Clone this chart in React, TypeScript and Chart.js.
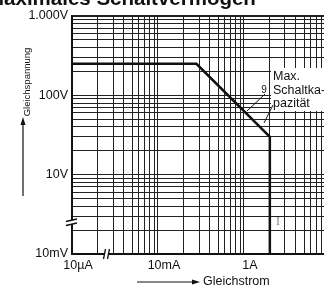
import React, { useEffect, useRef } from 'react';
import { Chart, registerables } from 'chart.js';

Chart.register(...registerables);

// ---------------- data ----------------
const xTickValues = [0.01, 0.1, 1];
const xTickLabels = ['10µA', '10mA', '1A'];
const yTickValues = [1, 10, 100, 1000];
const yTickLabels = ['10mV', '10V', '100V', '1.000V'];
const gridDecadesX = [0.01, 0.1, 1];
const gridDecadesY = [1, 10, 100];
const gridSteps = [1, 2, 3, 4, 5, 6, 7, 8, 9];
const curveCurrentA = [0.01, 0.28, 2, 2];
const curveVoltageV = [250, 250, 30, 1];
const titleText = 'Maximales Schaltvermögen';
const yAxisTitle = 'Gleichspannung';
const xAxisTitle = 'Gleichstrom';
const noteLines = ['Max.', 'Schaltka-', 'pazität'];

const FONT = '"Liberation Sans", Arial, Helvetica, sans-serif';

const xGrid = gridDecadesX.flatMap((d) => gridSteps.map((s) => +(d * s).toPrecision(6)));
const yGrid = [...gridDecadesY.flatMap((d) => gridSteps.map((s) => +(d * s).toPrecision(6))), 1000];

function labelFor(values: number[], labels: string[], v: number): string {
  const i = values.findIndex((t) => Math.abs(Math.log10(t) - Math.log10(v)) < 1e-6);
  return i >= 0 ? labels[i] : '';
}

const decoPlugin = {
  id: 'deco',
  afterDraw(chart: any) {
    const ctx: CanvasRenderingContext2D = chart.ctx;
    const { left } = chart.chartArea;
    ctx.save();
    ctx.fillStyle = '#111';
    ctx.strokeStyle = '#111';

    // title (cut at top)
    ctx.font = `bold 20.5px ${FONT}`;
    ctx.textAlign = 'left';
    ctx.textBaseline = 'alphabetic';
    ctx.fillText(titleText, -13, 4.5);

    // y axis title + arrow
    ctx.save();
    ctx.translate(27, 82);
    ctx.rotate(-Math.PI / 2);
    ctx.font = `9.5px ${FONT}`;
    ctx.textAlign = 'center';
    ctx.textBaseline = 'middle';
    ctx.fillText(yAxisTitle, 0, 0);
    ctx.restore();
    ctx.lineWidth = 1.2;
    ctx.beginPath();
    ctx.moveTo(23, 196);
    ctx.lineTo(23, 123);
    ctx.stroke();
    ctx.beginPath();
    ctx.moveTo(23, 117);
    ctx.lineTo(20.5, 125);
    ctx.lineTo(25.5, 125);
    ctx.closePath();
    ctx.fill();

    // x axis title + arrow
    ctx.beginPath();
    ctx.moveTo(137, 282);
    ctx.lineTo(193, 282);
    ctx.stroke();
    ctx.beginPath();
    ctx.moveTo(200, 282);
    ctx.lineTo(192, 279.5);
    ctx.lineTo(192, 284.5);
    ctx.closePath();
    ctx.fill();
    ctx.font = `12.5px ${FONT}`;
    ctx.textAlign = 'left';
    ctx.textBaseline = 'middle';
    ctx.fillText(xAxisTitle, 203, 282);

    // y axis break
    ctx.fillStyle = '#fff';
    ctx.beginPath();
    ctx.moveTo(left - 6, 221.5);
    ctx.lineTo(left + 5, 219);
    ctx.lineTo(left + 5, 223);
    ctx.lineTo(left - 6, 225.5);
    ctx.closePath();
    ctx.fill();
    ctx.lineWidth = 1.3;
    ctx.beginPath();
    ctx.moveTo(left - 6, 221.5);
    ctx.lineTo(left + 5, 219);
    ctx.moveTo(left - 6, 225.5);
    ctx.lineTo(left + 5, 223);
    ctx.stroke();

    // x axis break
    ctx.beginPath();
    ctx.moveTo(103.5, 259);
    ctx.lineTo(105.5, 249);
    ctx.lineTo(109.5, 249);
    ctx.lineTo(107.5, 259);
    ctx.closePath();
    ctx.fill();
    ctx.beginPath();
    ctx.moveTo(103.5, 259);
    ctx.lineTo(105.5, 249);
    ctx.moveTo(107.5, 259);
    ctx.lineTo(109.5, 249);
    ctx.stroke();

    // annotation
    ctx.fillStyle = '#fff';
    ctx.fillRect(271, 68, 60, 43);
    ctx.fillStyle = '#111';
    ctx.font = `12.5px ${FONT}`;
    ctx.textAlign = 'left';
    ctx.textBaseline = 'middle';
    noteLines.forEach((t, i) => ctx.fillText(t, 273, 77 + i * 13.3));
    ctx.lineWidth = 1;
    ctx.beginPath();
    ctx.moveTo(265, 94);
    ctx.lineTo(247, 111);
    ctx.moveTo(273, 105);
    ctx.lineTo(264, 123);
    ctx.stroke();
    ctx.font = `10px ${FONT}`;
    ctx.textAlign = 'center';
    ctx.fillText('9', 264, 90);

    ctx.fillStyle = '#888';
    ctx.font = `12px "Liberation Serif", serif`;
    ctx.fillText('I', 278, 222);
    ctx.restore();
  },
};

export default function App() {
  const ref = useRef<HTMLCanvasElement>(null);
  useEffect(() => {
    const canvas = ref.current;
    if (!canvas) return;
    const chart = new Chart(canvas, {
      type: 'scatter',
      data: {
        datasets: [
          {
            data: curveCurrentA.map((x, i) => ({ x, y: curveVoltageV[i] })),
            showLine: true,
            borderColor: '#111',
            borderWidth: 2.5,
            pointRadius: 0,
            fill: false,
            tension: 0,
          },
        ],
      },
      options: {
        responsive: false,
        animation: false,
        devicePixelRatio: 1,
        layout: { padding: { top: 16, left: 0, right: 0, bottom: 0 } },
        plugins: {
          legend: { display: false },
          tooltip: { enabled: false },
          title: { display: false },
        },
        scales: {
          x: {
            type: 'logarithmic',
            min: 0.01,
            max: 10,
            position: 'bottom',
            afterBuildTicks: (s: any) => {
              s.ticks = xGrid.map((v) => ({ value: v }));
            },
            afterFit: (s: any) => {
              s.height = 33;
            },
            ticks: {
              autoSkip: false,
              maxRotation: 0,
              minRotation: 0,
              padding: 4,
              labelOffset: 6,
              color: '#111',
              font: { family: FONT, size: 12.5 },
              callback: (v: any) => labelFor(xTickValues, xTickLabels, Number(v)),
            },
            grid: { color: '#222', lineWidth: 1, drawTicks: false },
            border: { color: '#111', width: 2 },
          },
          y: {
            type: 'logarithmic',
            min: 1,
            max: 1000,
            afterBuildTicks: (s: any) => {
              s.ticks = yGrid.map((v) => ({ value: v }));
            },
            afterFit: (s: any) => {
              s.width = 72;
            },
            ticks: {
              autoSkip: false,
              padding: 4,
              color: '#111',
              font: { family: FONT, size: 12.5 },
              callback: (v: any) => labelFor(yTickValues, yTickLabels, Number(v)),
            },
            grid: {
              color: '#222',
              lineWidth: (c: any) => (c.tick && c.tick.value === 1000 ? 2 : 1),
              drawTicks: false,
            },
            border: { color: '#111', width: 2 },
          },
        },
      } as any,
      plugins: [decoPlugin],
    });
    return () => chart.destroy();
  }, []);

  return (
    <div
      style={{
        position: 'fixed',
        left: 0,
        top: 0,
        width: 324,
        height: 287,
        overflow: 'hidden',
        background: '#fff',
      }}
    >
      <canvas ref={ref} width={330} height={287} style={{ display: 'block' }} />
    </div>
  );
}
